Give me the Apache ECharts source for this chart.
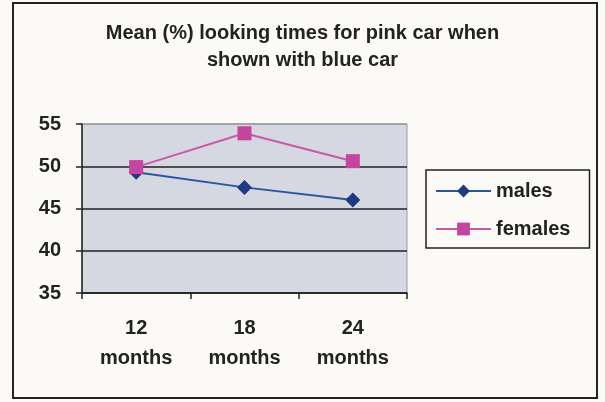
<!DOCTYPE html>
<html>
<head>
<meta charset="utf-8">
<script src="https://cdn.jsdelivr.net/npm/echarts@6/dist/echarts.min.js"></script>
<style>
    html, body {margin: 0; padding: 0; background: #fbfaf6;}
    #chart {width: 605px; height: 402px;}
</style>
</head>
<body>
<div id="chart"></div>
<script>
// data
var categories = ['12\nmonths', '18\nmonths', '24\nmonths'];
var males = [49.3, 47.5, 46.0];
var females = [49.9, 53.9, 50.6];
var yTicks = [35, 40, 45, 50, 55];

var font = 'Arial, "Liberation Sans", sans-serif';
var ink = '#222';

var e = echarts.init(document.getElementById('chart'));
var option = {
    backgroundColor: '#fbfaf6',
    animation: false,
    title: {
        text: 'Mean (%) looking times for pink car when\nshown with blue car',
        left: 'center',
        top: 15,
        textStyle: {fontFamily: font, fontSize: 20, fontWeight: 'bold', color: ink, lineHeight: 27}
    },
    grid: {
        left: 82, right: 198, top: 124, bottom: 109,
        show: true, backgroundColor: '#d5d7e1', borderColor: '#9a9aa0', borderWidth: 1
    },
    legend: {
        left: 426, top: 170,
        orient: 'vertical',
        padding: [11, 19, 9, 9],
        itemWidth: 55, itemHeight: 16, itemGap: 18,
        borderColor: ink, borderWidth: 1.5,
        textStyle: {fontFamily: font, fontSize: 20, fontWeight: 'bold', color: ink},
        data: ['males', 'females']
    },
    xAxis: {
        type: 'category',
        data: categories,
        boundaryGap: true,
        axisLine: {lineStyle: {color: ink, width: 1.5}},
        axisTick: {show: true, length: 6, lineStyle: {color: ink, width: 1.5}},
        axisLabel: {fontFamily: font, fontSize: 20, fontWeight: 'bold', color: ink, lineHeight: 30, margin: 20},
        splitLine: {show: false}
    },
    yAxis: {
        type: 'value',
        min: yTicks[0], max: yTicks[yTicks.length - 1], interval: 5,
        axisLine: {show: true, lineStyle: {color: ink, width: 1.5}},
        axisTick: {show: true, length: 6, lineStyle: {color: ink, width: 1.5}},
        axisLabel: {fontFamily: font, fontSize: 20, fontWeight: 'bold', color: ink, margin: 21},
        splitLine: {show: true, lineStyle: {color: ['#222', '#222', '#222', '#222', '#9a9aa0'], width: 1.5}}
    },
    series: [
        {
            name: 'males', type: 'line', data: males,
            symbol: 'diamond', symbolSize: 15,
            lineStyle: {color: '#2a55a0', width: 2},
            itemStyle: {color: '#1d3a82'}
        },
        {
            name: 'females', type: 'line', data: females,
            symbol: 'rect', symbolSize: 14,
            lineStyle: {color: '#c95aa6', width: 2},
            itemStyle: {color: '#c345a0'}
        }
    ],
    graphic: [{
        type: 'rect', silent: true,
        shape: {x: 13, y: 3, width: 584, height: 395},
        style: {fill: null, stroke: ink, lineWidth: 2}
    }]
};
e.setOption(option);
</script>
</body>
</html>
